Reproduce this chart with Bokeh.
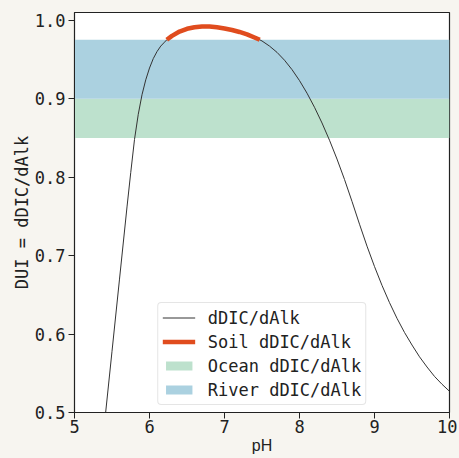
from bokeh.plotting import figure
from bokeh.models import Legend, LegendItem, Range1d, FixedTicker, NumeralTickFormatter
from bokeh.embed import file_html
from bokeh.resources import INLINE

# ---- data ----
ph = [5.40, 5.50, 5.60, 5.65, 5.70, 5.75, 5.80, 5.85, 5.90, 5.95, 6.00, 6.05, 6.10, 6.15, 6.20, 6.23,
      6.30, 6.40, 6.50, 6.60, 6.70, 6.80, 6.90, 7.00, 7.10, 7.20, 7.30, 7.40, 7.47,
      7.50, 7.60, 7.70, 7.80, 7.90, 8.00, 8.10, 8.20, 8.30, 8.40, 8.50, 8.60, 8.70,
      8.80, 8.90, 9.00, 9.10, 9.20, 9.30, 9.40, 9.50, 9.60, 9.70, 9.80, 9.90, 10.00]
dui = [0.486, 0.578, 0.670, 0.716, 0.762, 0.806, 0.848, 0.880, 0.905, 0.924, 0.939, 0.951, 0.960, 0.967, 0.972, 0.975,
       0.980, 0.9855, 0.989, 0.991, 0.992, 0.992, 0.991, 0.9895, 0.9875, 0.985, 0.982, 0.978, 0.975,
       0.9735, 0.967, 0.959, 0.949, 0.937, 0.923, 0.907, 0.889, 0.869, 0.847, 0.823, 0.797, 0.769,
       0.740, 0.712, 0.686, 0.662, 0.640, 0.620, 0.602, 0.586, 0.571, 0.558, 0.546, 0.536, 0.527]

soil_ph = [6.23, 6.30, 6.40, 6.50, 6.60, 6.70, 6.80, 6.90, 7.00, 7.10, 7.20, 7.30, 7.40, 7.47]
soil_dui = [0.975, 0.980, 0.9855, 0.989, 0.991, 0.992, 0.992, 0.991, 0.9895, 0.9875, 0.985, 0.982, 0.978, 0.975]

ocean_low, ocean_high = 0.85, 0.90
river_low, river_high = 0.90, 0.975

x_ticks = [5, 6, 7, 8, 9, 10]
y_ticks = [0.5, 0.6, 0.7, 0.8, 0.9, 1.0]

labels = ["dDIC/dAlk", "Soil dDIC/dAlk", "Ocean dDIC/dAlk", "River dDIC/dAlk"]

BG = "#f7f5f0"
MONO = "DejaVu Sans Mono"
INK = "#222222"

p = figure(frame_width=375, frame_height=400, output_backend="svg", toolbar_location=None,
           x_range=Range1d(5, 10), y_range=Range1d(0.5, 1.0098),
           min_border_left=65, min_border_right=8, min_border_top=4, min_border_bottom=46,
           border_fill_color=BG, background_fill_color="white")

r_ocean = p.quad(left=x_ticks[0], right=x_ticks[-1], bottom=ocean_low, top=ocean_high,
                 fill_color="#bde1cd", line_color=None)
r_river = p.quad(left=x_ticks[0], right=x_ticks[-1], bottom=river_low, top=river_high,
                 fill_color="#abd1e0", line_color=None)
r_line = p.line(ph, dui, line_color="#333333", line_width=1)
r_soil = p.line(soil_ph, soil_dui, line_color="#e04c1e", line_width=4.5)

legend = Legend(items=[LegendItem(label=labels[0], renderers=[r_line]),
                       LegendItem(label=labels[1], renderers=[r_soil]),
                       LegendItem(label=labels[2], renderers=[r_ocean]),
                       LegendItem(label=labels[3], renderers=[r_river])],
                location="bottom_center", margin=7, padding=4, spacing=3,
                glyph_width=33, glyph_height=11, label_height=21, label_standoff=13,
                label_text_font=MONO, label_text_font_size="17px", label_text_color=INK,
                border_line_color="#cccccc", border_line_width=1, border_radius=4,
                background_fill_color="white", background_fill_alpha=0.9)
p.add_layout(legend, "center")

p.grid.visible = False
p.outline_line_color = INK
p.outline_line_width = 1.2

p.xaxis.ticker = FixedTicker(ticks=x_ticks)
p.yaxis.ticker = FixedTicker(ticks=y_ticks)
p.yaxis.formatter = NumeralTickFormatter(format="0.0")
for ax in (p.xaxis[0], p.yaxis[0]):
    ax.major_tick_out = 6
    ax.major_tick_in = 0
    ax.minor_tick_out = 0
    ax.minor_tick_in = 0
    ax.axis_line_color = INK
    ax.major_tick_line_color = INK
    ax.major_label_text_font = MONO
    ax.major_label_text_font_size = "17px"
    ax.major_label_text_color = INK
    ax.major_label_standoff = 3
    ax.axis_label_text_font_style = "normal"
    ax.axis_label_text_color = INK

p.xaxis.major_label_standoff = 1
p.xaxis.axis_label = "pH"
p.xaxis.axis_label_text_font = "Liberation Sans"
p.xaxis.axis_label_text_font_size = "16px"
p.xaxis.axis_label_standoff = 1

p.yaxis.axis_label = "DUI = dDIC/dAlk"
p.yaxis.axis_label_text_font = MONO
p.yaxis.axis_label_text_font_size = "17px"
p.yaxis.axis_label_standoff = 0

page_css = ("<style>"
            "html{margin:0!important;padding:0!important;width:459px!important;height:458px!important;"
            "overflow:hidden!important;background:%s!important;}"
            "body{margin:0!important;padding:8px 0 0 8px!important;box-sizing:border-box!important;"
            "width:459px!important;height:458px!important;overflow:hidden!important;"
            "background:%s!important;display:block!important;}"
            "</style>" % (BG, BG))

html = file_html(p, INLINE)
html = html.replace("</head>", page_css + "</head>", 1)
open("out.html", "w").write(html)
